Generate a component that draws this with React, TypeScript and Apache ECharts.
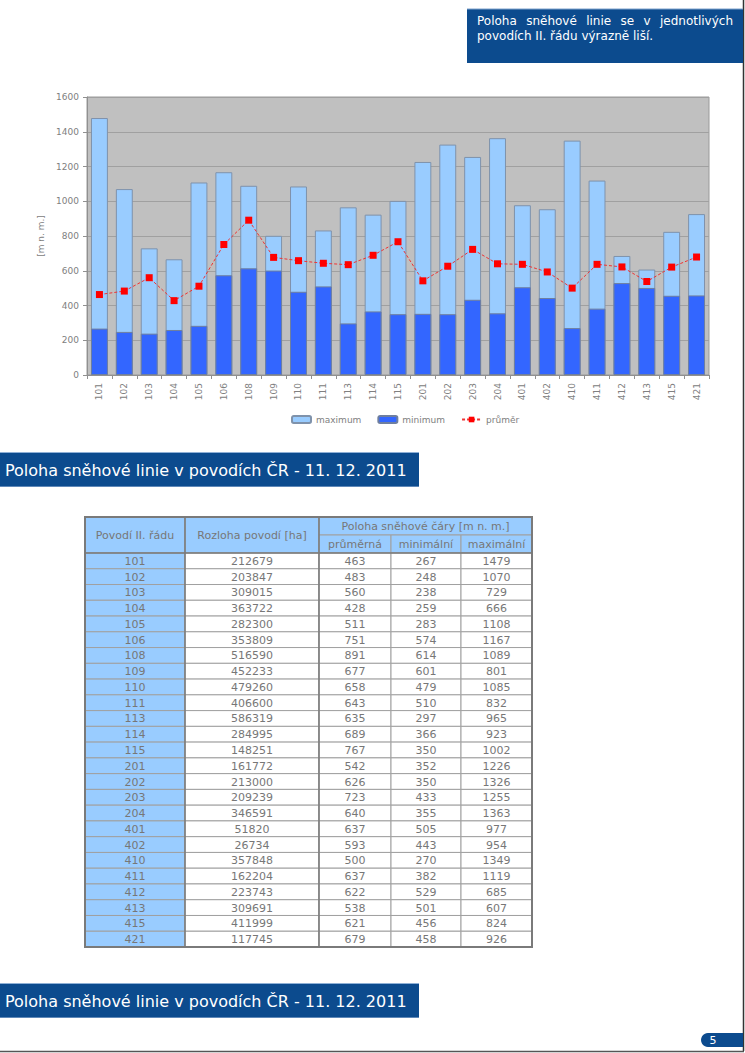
import React, { useEffect, useRef } from "react";
import * as echarts from "echarts";

const categories = ["101","102","103","104","105","106","108","109","110","111","113","114","115","201","202","203","204","401","402","410","411","412","413","415","421"];
const areaHa = [212679,203847,309015,363722,282300,353809,516590,452233,479260,406600,586319,284995,148251,161772,213000,209239,346591,51820,26734,357848,162204,223743,309691,411999,117745];
const avgVals = [463,483,560,428,511,751,891,677,658,643,635,689,767,542,626,723,640,637,593,500,637,622,538,621,679];
const minVals = [267,248,238,259,283,574,614,601,479,510,297,366,350,352,350,433,355,505,443,270,382,529,501,456,458];
const maxVals = [1479,1070,729,666,1108,1167,1089,801,1085,832,965,923,1002,1226,1326,1255,1363,977,954,1349,1119,685,607,824,926];

const seriesNames = ["maximum", "minimum", "průměr"];
const headerTitle = "Poloha sněhové linie v povodích ČR - 11. 12. 2011";
const noteWords = ["Poloha sněhové linie se v jednotlivých", "povodích II. řádu výrazně liší."];
const tableHead = ["Povodí II. řádu", "Rozloha povodí [ha]", "Poloha sněhové čáry [m n. m.]"];
const tableSubHead = ["průměrná", "minimální", "maximální"];
const pageNumber = "5";

const FONT = "DejaVu Sans";

function measure(text: string, font: string): number {
  const c = document.createElement("canvas").getContext("2d");
  if (!c) return text.length * 6;
  c.font = font;
  return c.measureText(text).width;
}

function buildGraphics(): any[] {
  const g: any[] = [];
  const blue = "#0c4b8e";
  g.push({ type: "line", shape: { x1: 743.5, y1: 0, x2: 743.5, y2: 1051 }, style: { stroke: "#333", lineWidth: 1.5 }, silent: true });
  g.push({ type: "line", shape: { x1: 0, y1: 1051.5, x2: 744, y2: 1051.5 }, style: { stroke: "#555", lineWidth: 1.5 }, silent: true });

  g.push({ type: "rect", shape: { x: 467, y: 9, width: 276, height: 54 }, style: { fill: blue }, silent: true });
  g.push({ type: "line", shape: { x1: 467, y1: 9, x2: 743, y2: 9 }, style: { stroke: "#7fa3cc", lineWidth: 1 }, silent: true });
  const noteFont = `12px ${FONT}`;
  const line1 = noteWords[0].split(" ");
  const widths = line1.map((w) => measure(w, noteFont));
  const total = widths.reduce((a, b) => a + b, 0);
  const left = 477, right = 733;
  const gap = (right - left - total) / (line1.length - 1);
  let cx = left;
  line1.forEach((w, i) => {
    g.push({ type: "text", x: cx, y: 21, style: { text: w, fill: "#fff", font: noteFont, textVerticalAlign: "middle" }, silent: true });
    cx += widths[i] + gap;
  });
  g.push({ type: "text", x: left, y: 36, style: { text: noteWords[1], fill: "#fff", font: noteFont, textVerticalAlign: "middle" }, silent: true });

  [452, 983].forEach((by) => {
    g.push({ type: "rect", shape: { x: 0, y: by, width: 419, height: 35 }, style: { fill: blue }, silent: true });
    g.push({ type: "line", shape: { x1: 0, y1: by + 0.5, x2: 419, y2: by + 0.5 }, style: { stroke: "#8fb0d6", lineWidth: 1 }, silent: true });
    g.push({ type: "line", shape: { x1: 0, y1: by + 34.5, x2: 419, y2: by + 34.5 }, style: { stroke: "#5f88b8", lineWidth: 1 }, silent: true });
    g.push({ type: "text", x: 5, y: by + 18, style: { text: headerTitle, fill: "#fff", font: `16px ${FONT}`, textVerticalAlign: "middle" }, silent: true });
  });

  g.push({ type: "circle", shape: { cx: 708, cy: 1040, r: 7 }, style: { fill: blue }, silent: true });
  g.push({ type: "rect", shape: { x: 708, y: 1033, width: 35, height: 14 }, style: { fill: blue }, silent: true });
  g.push({ type: "text", x: 713, y: 1040, style: { text: pageNumber, fill: "#fff", font: `11px ${FONT}`, textVerticalAlign: "middle", textAlign: "center" }, silent: true });

  const colX = [85, 185, 319, 391, 461, 532];
  const yTop = 517, yMid = 535, yBody = 553, yEnd = 947;
  const rowH = (yEnd - yBody) / categories.length;
  const headFill = "#99ccff";
  const stroke = "#a0a0a0";
  const txtColor = "#777777";
  const tFont = `11px ${FONT}`;
  const cell = (x1: number, y1: number, x2: number, y2: number, fill: string, text: string) => {
    g.push({ type: "rect", shape: { x: x1, y: y1, width: x2 - x1, height: y2 - y1 }, style: { fill, stroke, lineWidth: 1 }, silent: true });
    g.push({ type: "text", x: (x1 + x2) / 2, y: (y1 + y2) / 2 + 0.5, style: { text, fill: txtColor, font: tFont, textAlign: "center", textVerticalAlign: "middle" }, silent: true });
  };
  cell(colX[0], yTop, colX[1], yBody, headFill, tableHead[0]);
  cell(colX[1], yTop, colX[2], yBody, headFill, tableHead[1]);
  cell(colX[2], yTop, colX[5], yMid, headFill, tableHead[2]);
  tableSubHead.forEach((t, i) => cell(colX[2 + i], yMid, colX[3 + i], yBody, headFill, t));
  categories.forEach((c, r) => {
    const y1 = yBody + r * rowH, y2 = y1 + rowH;
    cell(colX[0], y1, colX[1], y2, headFill, c);
    cell(colX[1], y1, colX[2], y2, "#fff", String(areaHa[r]));
    cell(colX[2], y1, colX[3], y2, "#fff", String(avgVals[r]));
    cell(colX[3], y1, colX[4], y2, "#fff", String(minVals[r]));
    cell(colX[4], y1, colX[5], y2, "#fff", String(maxVals[r]));
  });
  g.push({ type: "rect", shape: { x: colX[0], y: yTop, width: colX[5] - colX[0], height: yEnd - yTop }, style: { fill: "none", stroke: "#7a7a7a", lineWidth: 2 }, silent: true });
  [colX[1], colX[2]].forEach((x) => g.push({ type: "line", shape: { x1: x, y1: yTop, x2: x, y2: yEnd }, style: { stroke: "#7a7a7a", lineWidth: 1.5 }, silent: true }));
  g.push({ type: "line", shape: { x1: colX[0], y1: yBody, x2: colX[5], y2: yBody }, style: { stroke: "#7a7a7a", lineWidth: 1.5 }, silent: true });
  return g;
}

export default function App() {
  const ref = useRef<HTMLDivElement>(null);
  useEffect(() => {
    if (!ref.current) return;
    const chart = echarts.init(ref.current, null, { renderer: "svg" });
    const grey = "#808080";
    chart.setOption({
      animation: false,
      backgroundColor: "#fff",
      textStyle: { fontFamily: FONT },
      grid: { left: 87, top: 97, width: 622, height: 278, show: true, backgroundColor: "#c0c0c0", borderColor: "#9a9a9a", borderWidth: 1 },
      legend: {
        left: 286, top: 410, itemWidth: 19, itemHeight: 7, itemGap: 16,
        textStyle: { color: grey, fontSize: 9, fontFamily: FONT },
        data: seriesNames,
      },
      xAxis: {
        type: "category", data: categories,
        axisLine: { lineStyle: { color: "#909090" } },
        axisTick: { show: true, length: 4, lineStyle: { color: "#909090" } },
        axisLabel: { rotate: 90, color: grey, fontSize: 9, margin: 8, fontFamily: FONT },
      },
      yAxis: {
        type: "value", min: 0, max: 1600, interval: 200,
        name: "[m n. m.]", nameLocation: "middle", nameGap: 40,
        nameTextStyle: { color: grey, fontSize: 9, fontFamily: FONT },
        axisLine: { show: true, lineStyle: { color: "#909090" } },
        axisTick: { show: true, length: 4, lineStyle: { color: "#909090" } },
        axisLabel: { color: grey, fontSize: 9, margin: 8, fontFamily: FONT, formatter: (v: number) => String(v) },
        splitLine: { lineStyle: { color: "#a0a0a0" } },
      },
      series: [
        { name: seriesNames[0], type: "bar", data: maxVals, barWidth: "68%", barGap: "-100%", itemStyle: { color: "#99ccff", borderColor: "#7f92ab", borderWidth: 1 } },
        { name: seriesNames[1], type: "bar", data: minVals, barWidth: "68%", barGap: "-100%", itemStyle: { color: "#3366ff", borderColor: "#6f7f9f", borderWidth: 1 } },
        { name: seriesNames[2], type: "line", data: avgVals, symbol: "rect", symbolSize: 7, z: 5,
          itemStyle: { color: "#ff0000" }, lineStyle: { color: "#ee3333", width: 1, type: [3, 2] } },
      ],
      graphic: buildGraphics(),
    });
    return () => chart.dispose();
  }, []);
  return <div ref={ref} style={{ position: "absolute", left: 0, top: 0, width: 745, height: 1053 }} />;
}
